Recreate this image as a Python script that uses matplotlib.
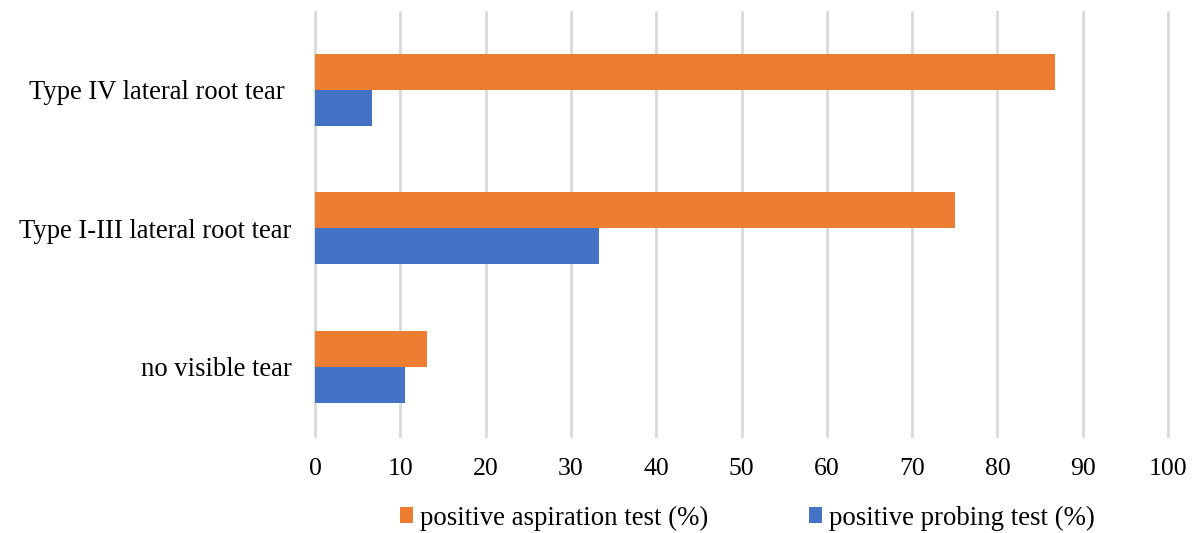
import matplotlib
matplotlib.use("Agg")
import matplotlib.pyplot as plt
import numpy as np

categories = ["no visible tear", "Type I-III lateral root tear", "Type IV lateral root tear "]
aspiration = [13.1, 75.0, 86.7]
probing = [10.5, 33.3, 6.7]
series_names = ["positive aspiration test (%)", "positive probing test (%)"]
xticks = list(range(0, 101, 10))

ORANGE = "#ED7D31"
BLUE = "#4472C4"
GRID = "#D9D9D9"

plt.rcParams["font.family"] = ["Liberation Serif", "DejaVu Serif"]

fig = plt.figure(figsize=(11.96, 5.33), dpi=100)
ax = fig.add_axes([315 / 1196, 1 - 436 / 533, (1168 - 315) / 1196, (436 - 12) / 533])

y = np.arange(len(categories))
h = 0.26
ax.barh(y + h / 2, aspiration, height=h, color=ORANGE, label=series_names[0], zorder=3)
ax.barh(y - h / 2, probing, height=h, color=BLUE, label=series_names[1], zorder=3)

ax.set_xlim(0, 100)
ax.set_ylim(-0.5, 2.56)
ax.set_xticks(xticks)
ax.set_xticklabels([str(t) for t in xticks], fontsize=18.5)
ax.set_yticks(y)
ax.set_yticklabels(categories, fontsize=19.2)
ax.tick_params(axis="both", length=0)
ax.tick_params(axis="x", pad=16)
ax.tick_params(axis="y", pad=17)

ax.grid(axis="x", color=GRID, linewidth=2, zorder=0)
for gl in ax.xaxis.get_gridlines():
    gl.set_clip_on(False)
for s in ax.spines.values():
    s.set_visible(False)

handles, labels = ax.get_legend_handles_labels()
fig.legend(handles, labels, loc="center", bbox_to_anchor=(747 / 1196, 1 - 518 / 533),
           ncol=2, frameon=False, fontsize=19.3, handlelength=0.5, handleheight=0.5,
           handletextpad=0.25, columnspacing=3.75)

fig.savefig("out.png", dpi=100, facecolor="white")
